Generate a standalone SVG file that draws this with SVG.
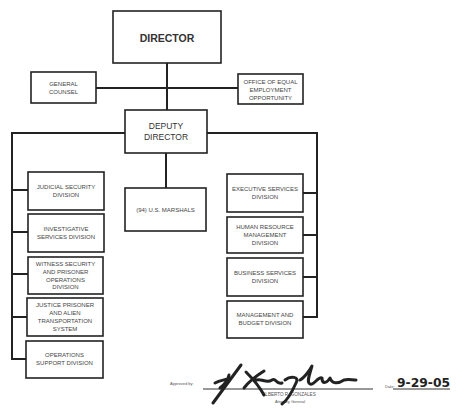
<svg xmlns="http://www.w3.org/2000/svg" width="474" height="408" viewBox="0 0 474 408">
<style>
.box{fill:#fff;stroke:#222;stroke-width:1.6}
.ln{fill:none;stroke:#222;stroke-width:2}
.t{font-family:"Liberation Sans",Arial,sans-serif;font-size:6px;fill:#444;text-anchor:middle}
.big{font-family:"Liberation Sans",Arial,sans-serif;fill:#333;text-anchor:middle}
.sm{font-family:"Liberation Sans",Arial,sans-serif;fill:#555}
.sig{fill:none;stroke:#222;stroke-width:3;stroke-linecap:round;stroke-linejoin:round}
</style>
<rect width="474" height="408" fill="#fff"/>
<g id="connectors">
<path class="ln" d="M167 63V110M96 88H238"/>
<path class="ln" d="M125 133H12V359H26M12 190H28M12 232H28M12 274H28M12 317H27"/>
<path class="ln" d="M166 153V188"/>
<path class="ln" d="M207 133H317V317H303M303 193H317M303 235H317M303 277H317"/>
</g>
<g id="director"><rect class="box" x="113" y="11" width="108" height="52"/><text class="big" x="167" y="42" font-size="10.5" font-weight="bold">DIRECTOR</text></g>
<g id="general-counsel"><rect class="box" x="31" y="72" width="65" height="31"/><text class="t" x="63.5" y="86">GENERAL</text><text class="t" x="63.5" y="94">COUNSEL</text></g>
<g id="oeeo"><rect class="box" x="238" y="74" width="65" height="30"/><text class="t" x="270.5" y="84">OFFICE OF EQUAL</text><text class="t" x="270.5" y="91.5">EMPLOYMENT</text><text class="t" x="270.5" y="99.5">OPPORTUNITY</text></g>
<g id="deputy-director"><rect class="box" x="125" y="110" width="82" height="43"/><text class="big" x="166" y="129" font-size="8.5">DEPUTY</text><text class="big" x="166" y="140" font-size="8.5">DIRECTOR</text></g>
<g id="us-marshals"><rect class="box" x="125" y="188" width="81" height="43"/><text class="t" x="165.5" y="211.5" font-size="6.6">(94) U.S. MARSHALS</text></g>
<g id="judicial"><rect class="box" x="28" y="172" width="76" height="38"/><text class="t" x="66" y="189.2">JUDICIAL SECURITY</text><text class="t" x="66" y="197.2">DIVISION</text></g>
<g id="investigative"><rect class="box" x="28" y="214" width="76" height="38"/><text class="t" x="66" y="231.2">INVESTIGATIVE</text><text class="t" x="66" y="239.2">SERVICES DIVISION</text></g>
<g id="witness"><rect class="box" x="28" y="257" width="75" height="37"/><text class="t" x="65.5" y="266.2">WITNESS SECURITY</text><text class="t" x="65.5" y="273.9">AND PRISONER</text><text class="t" x="65.5" y="281.6">OPERATIONS</text><text class="t" x="65.5" y="289.3">DIVISION</text></g>
<g id="justice"><rect class="box" x="27" y="298" width="76" height="38"/><text class="t" x="65" y="307.2">JUSTICE PRISONER</text><text class="t" x="65" y="315.2">AND ALIEN</text><text class="t" x="65" y="323.2">TRANSPORTATION</text><text class="t" x="65" y="331.2">SYSTEM</text></g>
<g id="operations-support"><rect class="box" x="26" y="341" width="77" height="37"/><text class="t" x="64.5" y="357.2">OPERATIONS</text><text class="t" x="64.5" y="365.2">SUPPORT DIVISION</text></g>
<g id="executive"><rect class="box" x="227" y="174" width="76" height="38"/><text class="t" x="265" y="190.7">EXECUTIVE SERVICES</text><text class="t" x="265" y="198.7">DIVISION</text></g>
<g id="human-resource"><rect class="box" x="227" y="217" width="76" height="36"/><text class="t" x="265" y="229.2">HUMAN RESOURCE</text><text class="t" x="265" y="236.9">MANAGEMENT</text><text class="t" x="265" y="244.6">DIVISION</text></g>
<g id="business"><rect class="box" x="227" y="258" width="76" height="38"/><text class="t" x="265" y="274.7">BUSINESS SERVICES</text><text class="t" x="265" y="282.7">DIVISION</text></g>
<g id="mgmt-budget"><rect class="box" x="227" y="301" width="76" height="37"/><text class="t" x="265" y="317.2">MANAGEMENT AND</text><text class="t" x="265" y="325.2">BUDGET DIVISION</text></g>
<g id="approval">
<text class="sm" x="170" y="385" font-size="4">Approved by:</text>
<path d="M203 389H373M393 389H450" stroke="#333" stroke-width="1" fill="none"/>
<text class="sm" x="289" y="396" font-size="4.6" text-anchor="middle">ALBERTO R. GONZALES</text>
<text class="sm" x="290" y="403" font-size="4" text-anchor="middle">Attorney General</text>
<text class="sm" x="385" y="388" font-size="4">Date:</text>
<path class="sig" d="M213 403L241 365M215 383C220 380 226 380 230 378M220 388C225 384 228 380 229 375M246 372C252 378 258 384 264 395M244 388C250 380 256 376 264 371M256 380C262 378 266 384 272 380C276 377 276 385 282 383M285 380C290 376 300 376 296 383C292 392 288 400 282 404M300 380C304 378 310 370 312 366C310 374 306 382 310 384C314 386 318 376 322 378C322 384 326 384 330 378C332 384 338 384 344 380C348 379 352 380 356 380"/>
<text x="397" y="387" font-family="DejaVu Sans,sans-serif" font-size="13" font-weight="bold" fill="#222" textLength="53" lengthAdjust="spacingAndGlyphs">9-29-05</text>
</g>
</svg>
